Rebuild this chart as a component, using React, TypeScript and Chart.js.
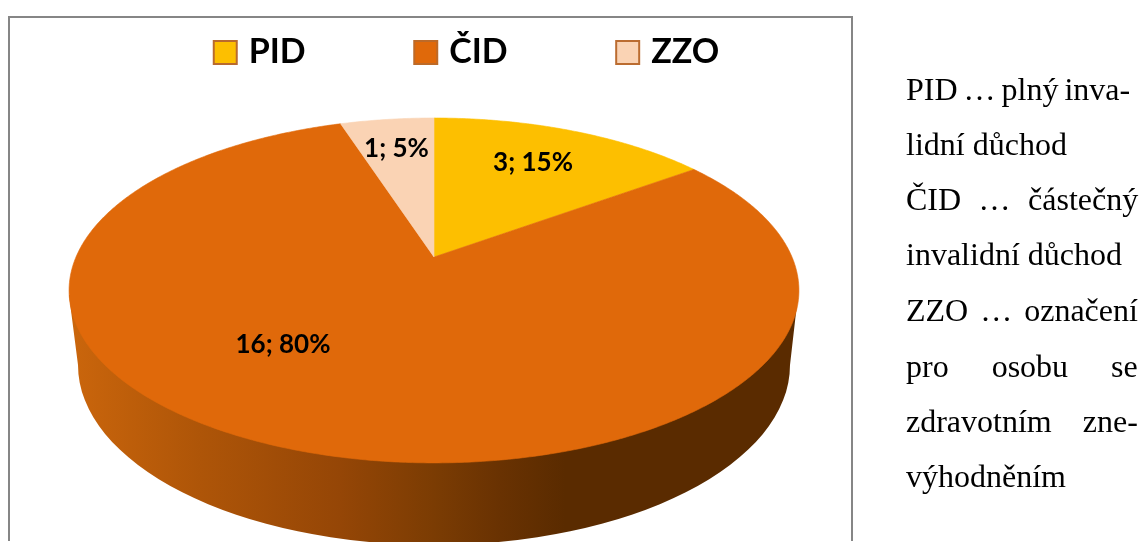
import React, { useEffect, useRef } from "react";
import { Chart, registerables } from "chart.js";

Chart.register(...registerables);

const categories = ["PID", "ČID", "ZZO"];
const values = [3, 16, 1];
const percents = [15, 80, 5];
const sliceColors = ["#fdbf00", "#e0690a", "#fad3b4"];
const legendBorders = ["#b96a2e", "#bd6a28", "#bb6c30"];
const labelPositions = [
  [533, 163],
  [283, 345],
  [396.5, 149],
];
const wallStops: [number, string][] = [
  [68, "#cb660c"],
  [200, "#ae5508"],
  [340, "#954606"],
  [434, "#7b3c03"],
  [500, "#693202"],
  [565, "#5a2b00"],
  [799, "#5a2b00"],
];
const noteLines: [string, number][] = [
  ["PID … plný inva-", -2],
  ["lidní důchod", 0],
  ["ČID … částečný", 9.5],
  ["invalidní důchod", 0],
  ["ZZO … označení", 4],
  ["pro osobu se", 35],
  ["zdravotním zne-", 23],
  ["výhodněním", 0],
];
const noteBaselines = [100, 155, 210, 265, 321, 377, 432, 487];

// Perspective of the pie's top face: unit disc -> page pixels.
const APEX_X = 434;
const APEX_Y = 257;
const PERSP_C = -0.194;
const PERSP_A = 116.1;
const PERSP_K = 358;
const project = (u: number, v: number): [number, number] => {
  const d = 1 + PERSP_C * v;
  return [APEX_X + (PERSP_K * u) / d, (PERSP_A * v + APEX_Y) / d];
};

const legendBox = (fill: string, border: string) => {
  const c = document.createElement("canvas");
  c.width = 27;
  c.height = 27;
  const g = c.getContext("2d")!;
  g.fillStyle = fill;
  g.fillRect(1, 1, 25, 25);
  g.strokeStyle = border;
  g.lineWidth = 2;
  g.strokeRect(2, 2, 23, 23);
  return c;
};

const pie3d = {
  id: "pie3d",
  beforeDraw(chart: any) {
    const ctx = chart.ctx;
    ctx.save();
    ctx.strokeStyle = "#868686";
    ctx.lineWidth = 2;
    ctx.beginPath();
    ctx.moveTo(9, 541);
    ctx.lineTo(9, 17);
    ctx.lineTo(852, 17);
    ctx.lineTo(852, 541);
    ctx.stroke();
    ctx.restore();
  },
  beforeDatasetDraw(chart: any) {
    const ctx = chart.ctx;
    const arcs = chart.getDatasetMeta(0).data;
    ctx.save();
    // side wall
    const grad = ctx.createLinearGradient(68, 0, 799, 0);
    for (const [x, col] of wallStops) grad.addColorStop((x - 68) / (799 - 68), col);
    ctx.fillStyle = grad;
    ctx.beginPath();
    ctx.moveTo(69, 295);
    ctx.lineTo(78, 365);
    ctx.ellipse(434, 365, 356, 180, 0, Math.PI, 0, true);
    ctx.lineTo(798, 295);
    ctx.closePath();
    ctx.fill();
    // top face
    arcs.forEach((arc: any, i: number) => {
      const { startAngle, endAngle } = arc.getProps(["startAngle", "endAngle"], true);
      ctx.beginPath();
      ctx.moveTo(APEX_X, APEX_Y);
      const n = Math.max(2, Math.ceil((endAngle - startAngle) * 120));
      for (let k = 0; k <= n; k++) {
        const a = startAngle + ((endAngle - startAngle) * k) / n;
        const [x, y] = project(Math.cos(a), Math.sin(a));
        ctx.lineTo(x, y);
      }
      ctx.closePath();
      ctx.fillStyle = sliceColors[i];
      ctx.fill();
      ctx.strokeStyle = sliceColors[i];
      ctx.lineWidth = 0.6;
      ctx.stroke();
    });
    ctx.restore();
    return false;
  },
  afterDatasetsDraw(chart: any) {
    const ctx = chart.ctx;
    ctx.save();
    ctx.font = "bold 26px Lato";
    ctx.fillStyle = "#000";
    ctx.textAlign = "center";
    ctx.textBaseline = "middle";
    values.forEach((v, i) => {
      ctx.fillText(`${v}; ${percents[i]}%`, labelPositions[i][0], labelPositions[i][1]);
    });
    ctx.restore();
  },
};

export default function App() {
  const ref = useRef<HTMLCanvasElement>(null);
  useEffect(() => {
    const chart = new Chart(ref.current!, {
      type: "pie",
      data: {
        labels: categories,
        datasets: [{ data: values, backgroundColor: sliceColors, borderWidth: 0 }],
      },
      options: {
        animation: false,
        responsive: false,
        layout: { padding: { left: 0, right: 206, top: -78 } },
        plugins: {
          tooltip: { enabled: false },
          legend: {
            position: "top",
            labels: {
              usePointStyle: true,
              pointStyleWidth: 13,
              padding: 113.5,
              color: "#000",
              font: { family: "Lato", weight: "bold", size: 34 },
              generateLabels: () =>
                categories.map((c, i) => ({
                  text: c,
                  fillStyle: sliceColors[i],
                  strokeStyle: legendBorders[i],
                  lineWidth: 0,
                  hidden: false,
                  index: i,
                  pointStyle: legendBox(sliceColors[i], legendBorders[i]),
                })),
            },
          },
        },
      } as any,
      plugins: [pie3d as any],
    });
    return () => chart.destroy();
  }, []);
  return (
    <div style={{ position: "absolute", left: 0, top: 0, width: 1144, height: 542, overflow: "hidden", background: "#fff" }}>
      <canvas ref={ref} width={1144} height={542} style={{ position: "absolute", left: 0, top: 0, display: "block" }} />
      {noteLines.map(([t, ws], i) => (
        <div
          key={i}
          style={{
            position: "absolute",
            left: 906,
            top: noteBaselines[i] - 31,
            lineHeight: "40px",
            fontFamily: "'Liberation Serif'",
            fontSize: 32,
            color: "#000",
            whiteSpace: "nowrap",
            wordSpacing: ws,
          }}
        >
          {t}
        </div>
      ))}
    </div>
  );
}
